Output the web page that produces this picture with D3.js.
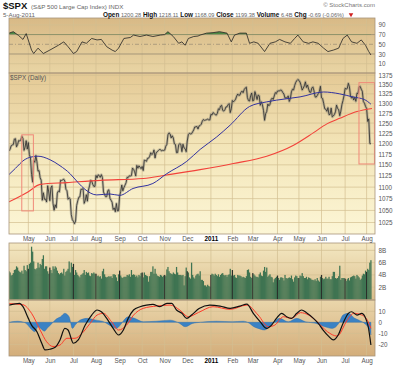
<!DOCTYPE html>
<html><head><meta charset="utf-8">
<script src="https://cdn.jsdelivr.net/npm/d3@7"></script>
<style>body{margin:0;background:#fff}svg{display:block;font-family:"Liberation Sans",Arial,sans-serif}</style>
</head><body><svg id="c" width="400" height="365"></svg>
<script>
// ---------------- DATA ----------------
const firstIndex = -18; // trading-day index of first bar (0 = 3 May 2010)
const closes = [
// Apr 2010
1182.45,1186.44,1194.37,1196.48,1197.30,1210.65,1211.67,1192.13,1197.52,1207.17,1205.94,1208.67,1217.28,1212.05,1183.71,1191.36,1206.78,1186.69,
// May
1202.26,1173.60,1165.87,1128.15,1110.88,1159.73,1155.79,1171.67,1157.44,1135.68,1136.94,1120.80,1115.05,1071.59,1087.69,1073.65,1074.03,1067.95,1103.06,1089.41,
// Jun
1070.71,1098.38,1102.83,1064.88,1050.47,1062.00,1055.69,1086.84,1091.60,1089.63,1115.23,1114.61,1116.04,1117.51,1113.20,1095.31,1092.04,1073.69,1076.76,1074.57,1041.24,1030.71,
// Jul
1027.37,1022.58,1028.06,1060.27,1070.25,1077.96,1078.75,1095.34,1095.17,1096.48,1064.88,1071.25,1083.48,1069.59,1093.67,1102.66,1115.01,1113.84,1106.13,1101.53,1101.60,
// Aug
1125.86,1120.46,1127.24,1125.81,1121.64,1127.79,1121.06,1089.47,1083.61,1079.25,1079.38,1092.54,1094.16,1075.63,1071.69,1067.36,1051.87,1055.33,1047.22,1064.59,1048.92,1049.33,
// Sep
1080.29,1090.10,1104.51,1091.84,1098.87,1104.18,1109.55,1121.90,1121.10,1125.07,1124.66,1125.59,1142.71,1139.78,1134.28,1124.83,1148.67,1142.16,1147.70,1144.73,1141.20,
// Oct
1146.24,1137.03,1160.75,1159.97,1158.06,1165.15,1165.32,1169.77,1178.10,1173.81,1176.19,1184.71,1165.90,1178.17,1180.26,1183.08,1185.62,1185.64,1182.45,1183.78,1183.26,
// Nov
1184.38,1193.57,1197.96,1221.06,1225.85,1223.25,1213.40,1218.71,1213.54,1199.21,1197.75,1178.34,1178.59,1196.69,1199.73,1197.84,1180.73,1198.35,1189.40,1187.76,1180.55,
// Dec
1206.07,1221.53,1224.71,1223.12,1223.75,1228.28,1233.00,1240.40,1240.46,1241.59,1235.23,1242.87,1243.91,1247.08,1254.60,1258.84,1256.77,1257.54,1258.51,1259.78,1257.88,1257.64,
// Jan 2011
1271.87,1270.20,1276.56,1273.85,1271.50,1269.75,1274.48,1285.96,1283.76,1293.24,1295.02,1281.92,1280.26,1283.35,1290.84,1291.18,1296.63,1299.54,1276.34,1286.12,
// Feb
1307.59,1304.03,1307.10,1310.87,1319.05,1324.57,1320.88,1321.87,1329.15,1332.32,1328.01,1336.32,1340.43,1343.01,1315.44,1307.40,1306.10,1319.88,1327.22,
// Mar
1306.33,1308.44,1330.97,1321.15,1310.13,1321.82,1320.02,1295.11,1304.28,1296.39,1281.87,1256.88,1273.72,1279.20,1298.38,1293.77,1297.54,1309.66,1313.80,1310.19,1319.44,1328.26,1325.83,
// Apr
1332.41,1332.87,1332.63,1335.54,1333.51,1328.17,1324.46,1314.16,1314.41,1314.52,1319.68,1305.14,1312.62,1330.36,1337.38,1335.25,1347.24,1355.66,1360.48,1363.61,
// May
1361.22,1356.62,1347.32,1335.10,1340.20,1346.29,1357.16,1342.08,1348.65,1337.77,1329.47,1328.98,1340.68,1343.60,1333.27,1317.37,1316.28,1320.47,1325.69,1331.10,1345.20,
// Jun
1314.55,1312.94,1300.16,1286.17,1284.94,1279.56,1289.00,1270.98,1271.83,1287.87,1265.42,1267.64,1271.50,1278.36,1295.52,1287.14,1283.50,1268.45,1280.10,1296.67,1307.41,1320.64,
// Jul
1339.67,1337.88,1339.22,1353.22,1343.80,1319.49,1313.64,1317.72,1308.87,1316.14,1305.44,1326.73,1325.84,1343.80,1345.02,1337.43,1331.94,1304.89,1300.67,1292.28,
// Aug
1286.94,1254.05,1260.34,1200.07,1199.38];

const volumes = [ // billions
4.6,4.4,3.9,4.0,4.3,4.8,4.9,5.4,5.2,4.7,4.5,4.4,4.7,4.2,5.5,4.8,4.6,5.6,
5.0,5.8,6.0,8.6,7.8,6.2,5.0,4.9,5.1,6.0,5.2,5.8,5.6,6.6,7.2,5.0,5.4,5.4,4.6,4.2,
5.2,4.8,4.3,5.4,5.0,5.4,5.2,4.7,4.3,4.1,4.3,4.4,4.2,5.0,3.9,4.5,4.7,5.0,6.2,4.4,6.0,5.3,
5.8,4.0,4.8,4.4,4.0,3.8,3.6,4.0,4.1,4.3,4.8,4.0,4.5,4.3,4.4,3.9,3.8,4.3,4.2,4.4,4.2,
4.2,3.8,3.9,3.7,3.8,3.4,4.6,5.0,4.1,3.7,3.6,3.7,3.8,3.7,3.8,3.5,4.1,4.1,4.0,3.6,3.0,4.1,
4.7,3.9,3.6,3.5,3.7,3.7,3.7,4.0,3.9,4.1,3.7,4.8,4.0,4.1,4.0,3.7,3.9,3.6,4.0,3.8,4.3,
4.4,3.6,4.4,4.0,3.9,3.8,2.9,3.8,4.5,4.5,5.4,4.2,5.0,4.2,3.9,3.8,3.7,4.0,3.9,3.7,3.9,
4.0,3.8,4.9,5.3,4.6,4.3,4.2,4.1,4.4,4.2,4.1,5.3,4.4,4.0,4.0,4.0,3.9,4.0,2.3,3.8,5.2,
4.6,4.4,3.6,3.4,6.0,4.0,3.6,3.4,3.9,4.1,4.2,3.9,4.6,3.2,3.2,3.0,2.3,2.3,2.1,2.4,2.2,2.1,
4.0,4.2,4.1,3.9,4.2,4.0,3.8,4.1,3.7,4.0,4.2,4.3,4.0,3.9,4.0,3.7,4.0,4.1,5.0,3.9,
4.8,3.9,4.0,3.6,3.5,4.0,3.9,3.9,3.8,3.6,3.7,3.6,3.5,3.8,4.8,4.9,4.4,3.7,3.5,
4.3,4.1,3.9,3.7,3.7,3.6,4.1,4.4,3.9,3.8,4.7,5.3,4.5,5.2,3.7,3.9,4.1,3.7,3.6,2.8,3.3,3.5,3.7,
3.9,3.5,3.2,3.6,3.6,3.5,3.1,4.0,3.5,3.4,3.5,3.6,3.5,3.9,3.3,2.9,3.6,3.9,3.8,3.5,
3.5,3.9,3.8,4.3,3.8,3.5,3.5,3.7,3.3,3.6,3.5,3.4,3.2,3.2,3.1,3.3,3.0,3.5,3.1,2.9,3.7,
4.0,3.5,3.3,3.4,3.7,3.4,3.4,3.7,3.3,3.3,3.8,4.5,4.5,3.5,3.4,3.5,3.8,5.5,3.2,3.5,3.5,3.5,
3.4,3.0,3.3,3.5,3.1,3.6,3.7,3.8,3.9,3.8,3.4,4.0,3.8,3.6,3.2,3.4,3.9,4.2,4.1,4.7,
4.5,5.0,4.8,6.0,6.4];

const monthTickIdx = [0,20,42,63,85,106,127,148,170,190,209,232,252,273,295,315];
const monthTickLabels = ["May","Jun","Jul","Aug","Sep","Oct","Nov","Dec","2011","Feb","Mar","Apr","May","Jun","Jul","Aug"];
const priceTicks = [1375,1350,1325,1300,1275,1250,1225,1200,1175,1150,1125,1100,1075,1050,1025];
const rsiTicks = [90,70,50,30,10];
const volTicks = [2,4,6,8];
const macdTicks = [10,0,-10,-20];

const ma50 = [[-18,1128],[-12,1142],[-4,1161],[2.5,1168],[9,1170],[20,1162],[29.5,1148],[38.8,1130],[46.3,1110],[52.8,1095],[63.7,1083],[76,1085],[85,1082],[97.5,1097],[116,1108],[129,1130],[147.5,1158],[160,1186],[175,1215],[188,1245],[206,1292],[222,1304],[240,1312],[253,1317],[275,1330],[290,1325],[302,1317],[313,1310],[319,1298]];
const ma200 = [[-18,1068],[0,1090],[11,1106],[36,1110],[67,1115],[107,1119],[129,1127],[160,1139],[191,1153],[222,1170],[247,1196],[266,1227],[278,1248],[290,1262],[306,1279],[320,1287]];

const rsi = [[-18,73],[-14,76],[-9,68],[-5,60],[-2,72],[3,38],[5,31],[9,42],[14,31],[20,38],[28,48],[33,55],[37,45],[42,31],[45,35],[50,55],[54,52],[59,62],[64,59],[68,60],[73,45],[78,38],[81,35],[84,42],[89,62],[95,64],[98,69],[104,66],[110,69],[116,66],[123,69],[127,70],[130,76],[135,66],[140,52],[143,55],[146,48],[149,62],[154,66],[158,67],[160,69],[166,73],[172,74],[178,76],[185,73],[189,55],[192,69],[197,73],[203,73],[206,52],[210,55],[214,52],[220,35],[225,52],[230,55],[234,60],[239,55],[244,52],[248,62],[251,69],[256,55],[261,52],[265,55],[270,52],[275,42],[279,35],[284,38],[289,42],[293,62],[297,69],[301,55],[306,52],[310,59],[314,48],[317,35],[319,28]];

const macd = [[-18,15.7],[-8,17.3],[-5,14.2],[0,3.6],[3,-2.5],[8,-8.5],[12.5,-19],[15.5,-25],[20,-24.5],[25,-22.7],[29.5,-16],[34,-5.5],[37,-7],[42,-19],[46.5,-16],[53,-2.5],[59,6.6],[64,11.2],[68,9.6],[73,3.6],[79,-5.5],[84,-11.5],[88.5,-7],[93,3.6],[98,11.2],[104,14.2],[110,15.7],[116,16.4],[122.5,14.2],[129,17.3],[133.5,17.3],[138,11.2],[143,8.2],[147.5,3.6],[152,6.6],[159,12.5],[169,15.7],[178.5,14.8],[188,12.7],[197,14.8],[203.5,16.6],[209.5,8.2],[216,0.5],[222,-5.5],[226.5,-2.5],[231,3.6],[236,8.2],[240.5,5.1],[245,3.6],[250,8.2],[254.5,11.2],[259,8.8],[265.5,3.6],[270,-1],[274.5,-7],[279.5,-12.5],[284,-16],[288.5,-11.5],[293,-1],[298,8.2],[301,9.6],[306,6.6],[310.5,8.2],[313.5,5.1],[316.5,-4],[319,-20.6]];
const signal = [[-18,17],[-5,16],[3,8.2],[11,-7],[17,-17.6],[23,-22],[29.5,-20.6],[36,-14.5],[43.5,-14.5],[50,-10],[57.5,-1],[64,6.6],[70,8.2],[77.5,0.5],[84,-7],[91.5,-2.5],[98,6.6],[107,12.7],[119.5,14.8],[132,15.7],[141,11.2],[149,5.1],[158.5,9],[172,14.2],[188,11.8],[203.5,15.7],[214,6.6],[223.5,-4],[229.5,-2.5],[237.5,5.1],[245,3.6],[253.5,8.8],[261,6.6],[269,0.5],[278.5,-8.5],[287.5,-12.5],[297,2],[303,8.2],[310.5,6.6],[316.5,0.5],[319,-5.5]];
const hist = [[-18,0],[-10,1],[-4,0],[0,-3],[3,-6.5],[6,-8.5],[9,-4],[12,-6],[15,-8],[18,-5],[22,-1],[26,3],[30,5],[34,8.2],[38,5],[41,-5.5],[44,-2],[48,2],[55,3.6],[63,2],[69,1],[73,-1],[78,-4],[82,-5.5],[86,-2],[89,2],[93,5],[99,3.6],[107,0.5],[119,1],[132,2],[141,-1],[146,-4],[153,-1],[160,0],[175,1],[190,0.5],[200,1],[206,-1],[210,-4],[214,-5.5],[220,-7],[226,-2.5],[234,3.6],[242,0.5],[250,3.6],[258,0.5],[268,-1],[276,-4],[283,-5.5],[289,-1],[293,6.6],[298,8.2],[304,3.6],[308,2],[313,-1],[317,-5.5],[319,-11.5]];

const boxes = [[-6.1,4.7,1221,1049],[307.9,322.3,1355,1152]]; // [idx0, idx1, priceTop, priceBottom]

const headerLabels = ["Open","High","Low","Close","Volume","Chg"];
const headerValues = ["1200.28","1218.11","1168.09","1199.38","6.4B","-0.69 (-0.06%)"];

// ---------------- LAYOUT ----------------
const svg = d3.select("#c");
const L = 9, R = 375;
const P = {rsi:[18,73], main:[73,234], vol:[243,300], macd:[300,356]};
const x = d3.scaleLinear().domain([firstIndex, 319]).range([9, 370.9]);
const yR = d3.scaleLinear().domain([-9.2, 104.2]).range([73, 18]);
const yP = d3.scaleLog().domain([1025, 1375]).range([222.5, 75.3]);
const yV = d3.scaleLinear().domain([0, 9.2]).range([299.5, 243]);
const yM = d3.scaleLinear().domain([-30.6, 20.3]).range([356, 300]);

const defs = svg.append("defs");
function grad(id, stops){
  const g = defs.append("linearGradient").attr("id",id).attr("x1",0).attr("y1",0).attr("x2",0).attr("y2",1);
  stops.forEach(([o,c]) => g.append("stop").attr("offset",o).attr("stop-color",c));
}
grad("gR",[[0,"#d8b986"],[1,"#e9d5a4"]]);
grad("gM",[[0,"#e4c995"],[0.45,"#f3e5b8"],[1,"#fcf6d6"]]);
grad("gV",[[0,"#f4e8c2"],[1,"#dabd8b"]]);
grad("gD",[[0,"#ead6ab"],[1,"#d3ad7a"]]);
function clip(id, y0, y1){
  defs.append("clipPath").attr("id",id).append("rect").attr("x",L).attr("y",y0).attr("width",R-L).attr("height",y1-y0);
}
clip("cR",...P.rsi); clip("cM",...P.main); clip("cV",...P.vol); clip("cD",...P.macd);
clip("cRup", P.rsi[0], yR(70)); clip("cRdn", yR(30), P.rsi[1]);

const gridCol = "#d3bf90";
function panel(key, fill){
  const [y0,y1] = P[key];
  svg.append("rect").attr("x",L).attr("y",y0).attr("width",R-L).attr("height",y1-y0).attr("fill",`url(#${fill})`);
  svg.append("g").selectAll("line").data(monthTickIdx).join("line")
    .attr("x1",d=>x(d)).attr("x2",d=>x(d)).attr("y1",y0).attr("y2",y1)
    .attr("stroke",gridCol).attr("stroke-width",0.7);
}
panel("rsi","gR"); panel("main","gM"); panel("vol","gV"); panel("macd","gD");

function hgrid(scale, vals, col, w, dash){
  svg.append("g").selectAll("line").data(vals).join("line")
    .attr("x1",L).attr("x2",R).attr("y1",d=>scale(d)).attr("y2",d=>scale(d))
    .attr("stroke",col).attr("stroke-width",w).attr("stroke-dasharray",dash||null);
}
function raxis(scale, vals, fmt){
  const g = svg.append("g").attr("transform",`translate(${R},0)`)
    .call(d3.axisRight(scale).tickValues(vals).tickFormat(fmt||(d=>d)).tickSize(0).tickPadding(3.5));
  g.select(".domain").remove();
  g.selectAll("text").attr("font-size",6.3).attr("fill","#555").attr("font-family","Liberation Sans, Arial, sans-serif");
}

// ---- RSI ----
hgrid(yR,[90,10],gridCol,0.7);
hgrid(yR,[70,30],"#978a72",0.8);
hgrid(yR,[50],"#978a72",0.7,"4,2,1,2");
const rsiLine = d3.line().x(d=>x(d[0])).y(d=>yR(d[1]));
svg.append("path").attr("clip-path","url(#cRup)")
  .attr("d", d3.area().x(d=>x(d[0])).y0(yR(70)).y1(d=>yR(d[1]))(rsi))
  .attr("fill","#4f8a45").attr("stroke","none");
svg.append("path").attr("clip-path","url(#cRdn)")
  .attr("d", d3.area().x(d=>x(d[0])).y0(yR(30)).y1(d=>yR(d[1]))(rsi))
  .attr("fill","#d03a3a").attr("stroke","none");
svg.append("path").attr("d",rsiLine(rsi)).attr("fill","none").attr("stroke","#222").attr("stroke-width",0.8).attr("clip-path","url(#cR)");
raxis(yR, rsiTicks);

// ---- MAIN ----
hgrid(yP, priceTicks, gridCol, 0.7);
const gM = svg.append("g").attr("clip-path","url(#cM)");
const priceLine = d3.line().x((d,i)=>x(firstIndex+i)).y(d=>yP(d));
gM.append("path").attr("d",priceLine(closes)).attr("fill","none").attr("stroke","#8d8a7c").attr("stroke-width",2.6).attr("stroke-opacity",0.5).attr("stroke-linejoin","round");
gM.append("path").attr("d",priceLine(closes)).attr("fill","none").attr("stroke","#333").attr("stroke-width",0.85);
const maLine = d3.line().x(d=>x(d[0])).y(d=>yP(d[1])).curve(d3.curveMonotoneX);
gM.append("path").attr("d",maLine(ma200)).attr("fill","none").attr("stroke","#f2423a").attr("stroke-width",1.1);
gM.append("path").attr("d",maLine(ma50)).attr("fill","none").attr("stroke","#3232a0").attr("stroke-width",1);
gM.selectAll("rect.box").data(boxes).join("rect").attr("class","box")
  .attr("x",d=>x(d[0])).attr("y",d=>yP(d[2])).attr("width",d=>x(d[1])-x(d[0])).attr("height",d=>yP(d[3])-yP(d[2]))
  .attr("fill","none").attr("stroke","#f08878").attr("stroke-width",1);
svg.append("text").attr("x",10).attr("y",79.5).attr("font-size",6.3).attr("fill","#555").text("$SPX (Daily)");
raxis(yP, priceTicks);

// ---- VOLUME ----
hgrid(yV, volTicks, gridCol, 0.7);
const gV = svg.append("g").attr("clip-path","url(#cV)");
const monthSet = new Set(monthTickIdx);
gV.selectAll("rect").data(volumes).join("rect")
  .attr("x",(d,i)=>x(firstIndex+i)-0.6).attr("width",1.25)
  .attr("y",d=>yV(d)).attr("height",d=>yV(0)-yV(d))
  .attr("fill",(d,i)=>monthSet.has(firstIndex+i)?"#2a2f2a":"#3f7452");
raxis(yV, volTicks, d=>d+"B");

// ---- MACD ----
hgrid(yM, macdTicks, gridCol, 0.7);
const gD = svg.append("g").attr("clip-path","url(#cD)");
gD.append("path").attr("d", d3.area().x(d=>x(d[0])).y0(yM(0)).y1(d=>yM(d[1])).curve(d3.curveMonotoneX)(hist))
  .attr("fill","#3b82c4").attr("stroke","#2a6aa8").attr("stroke-width",0.4);
const mLine = d3.line().x(d=>x(d[0])).y(d=>yM(d[1])).curve(d3.curveMonotoneX);
gD.append("path").attr("d",mLine(signal)).attr("fill","none").attr("stroke","#ff3a2a").attr("stroke-width",1);
gD.append("path").attr("d",mLine(macd)).attr("fill","none").attr("stroke","#111").attr("stroke-width",1.2);
raxis(yM, macdTicks);

// panel borders
Object.values(P).forEach(([y0,y1]) => {
  svg.append("rect").attr("x",L).attr("y",y0).attr("width",R-L).attr("height",y1-y0)
    .attr("fill","none").attr("stroke","#a8957a").attr("stroke-width",0.8);
});

// x axes
function xaxis(yPos){
  const g = svg.append("g").attr("transform",`translate(0,${yPos})`)
    .call(d3.axisBottom(x).tickValues(monthTickIdx).tickFormat((d,i)=>monthTickLabels[i]).tickSize(0).tickPadding(2.5));
  g.select(".domain").remove();
  g.selectAll("text").attr("font-size",6.3).attr("font-family","Liberation Sans, Arial, sans-serif")
    .attr("font-weight",(d,i)=>monthTickLabels[i]==="2011"?"bold":null)
    .attr("fill",(d,i)=>monthTickLabels[i]==="2011"?"#000":"#555");
}
xaxis(234); xaxis(356);

// header
svg.append("text").attr("x",3).attr("y",9).attr("font-size",9.5).attr("font-weight","bold").attr("fill","#111").text("$SPX");
svg.append("text").attr("x",31).attr("y",8.5).attr("font-size",6.2).attr("fill","#666").text("(S&P 500 Large Cap Index) INDX");
svg.append("text").attr("x",3).attr("y",17).attr("font-size",6.2).attr("fill","#666").text("5-Aug-2011");
svg.append("text").attr("x",375).attr("y",7).attr("font-size",6).attr("fill","#777").attr("text-anchor","end").text("© StockCharts.com");
const hdr = svg.append("text").attr("x",103).attr("y",17).attr("font-size",5.6);
headerLabels.forEach((l,i)=>{
  hdr.append("tspan").attr("font-weight","bold").attr("fill","#111").attr("font-size",6.4).text((i?" ":"")+l);
  hdr.append("tspan").attr("fill","#666").text(" "+headerValues[i]);
});
svg.append("path").attr("d",d3.symbol(d3.symbolTriangle,9)()).attr("transform","translate(351,14.5) rotate(180)").attr("fill","#d02020");
</script></body></html>
